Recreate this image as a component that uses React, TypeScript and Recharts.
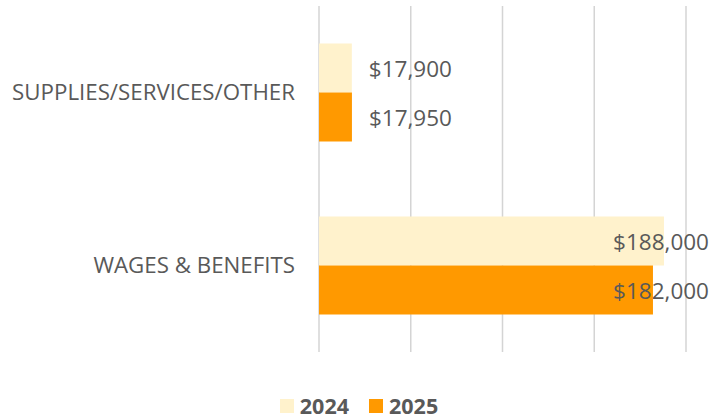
import React from 'react';
import { BarChart, Bar, XAxis, YAxis, CartesianGrid, Legend, LabelList } from 'recharts';

const categories = ['SUPPLIES/SERVICES/OTHER', 'WAGES & BENEFITS'];
const values2024 = [17900, 188000];
const values2025 = [17950, 182000];
const xTicks = [0, 50000, 100000, 150000, 200000];
const seriesNames = ['2024', '2025'];

const data = categories.map((c, i) => ({ name: c, y2024: values2024[i], y2025: values2025[i] }));

const COLORS = ['#FFF2CC', '#FF9900'];
const FONT = '"Open Sans", Calibri, sans-serif';
const TEXT = '#595959';
const CHART_W = 710;

const fmt = (v: number) => '$' + v.toLocaleString('en-US');

const renderLabel = (props: any) => {
  const { x, y, width, height, value } = props;
  const s = fmt(Number(value));
  const fontSize = 22.5;
  const est = s.length * fontSize * 0.56;
  let tx = Number(x) + Number(width) + 17;
  let anchor: 'start' | 'end' = 'start';
  if (tx + est > CHART_W - 2) {
    tx = CHART_W - 1;
    anchor = 'end';
  }
  return (
    <text x={tx} y={Number(y) + Number(height) / 2} dominantBaseline="central" textAnchor={anchor}
      fill={TEXT} fontSize={fontSize} fontFamily={FONT}>
      {s}
    </text>
  );
};

const renderLegend = () => (
  <div style={{ display: 'flex', justifyContent: 'center', alignItems: 'center', gap: 20, fontFamily: FONT, paddingLeft: 32, height: 26 }}>
    {seriesNames.map((n, i) => (
      <div key={n} style={{ display: 'flex', alignItems: 'center' }}>
        <span style={{ display: 'inline-block', width: 14, height: 14, background: COLORS[i], marginRight: 6 }} />
        <span style={{ color: TEXT, fontWeight: 700, fontSize: 21.5, lineHeight: '26px' }}>{n}</span>
      </div>
    ))}
  </div>
);

const EmptyTick = () => <g />;

export default function App() {
  return (
    <div style={{ position: 'absolute', left: 0, top: 0, background: '#fff' }}>
      <BarChart width={710} height={419} data={data} layout="vertical"
        margin={{ top: 6, right: 24, left: 0, bottom: 0 }} barCategoryGap="21.7%" barGap={0}>
        <CartesianGrid horizontal={false} stroke="#D4D4D4" strokeWidth={1.5} />
        <XAxis type="number" domain={[0, 200000]} ticks={xTicks} tick={EmptyTick} axisLine={false} tickLine={false} height={41} interval={0} />
        <YAxis type="category" dataKey="name" width={319} axisLine={false} tickLine={false} tickSize={0} tickMargin={24}
          tick={{ fill: TEXT, fontSize: 22.3, fontFamily: FONT }} />
        <Legend verticalAlign="bottom" height={26} content={renderLegend} />
        <Bar dataKey="y2024" name="2024" fill={COLORS[0]} isAnimationActive={false}>
          <LabelList dataKey="y2024" content={renderLabel} />
        </Bar>
        <Bar dataKey="y2025" name="2025" fill={COLORS[1]} isAnimationActive={false}>
          <LabelList dataKey="y2025" content={renderLabel} />
        </Bar>
      </BarChart>
    </div>
  );
}
